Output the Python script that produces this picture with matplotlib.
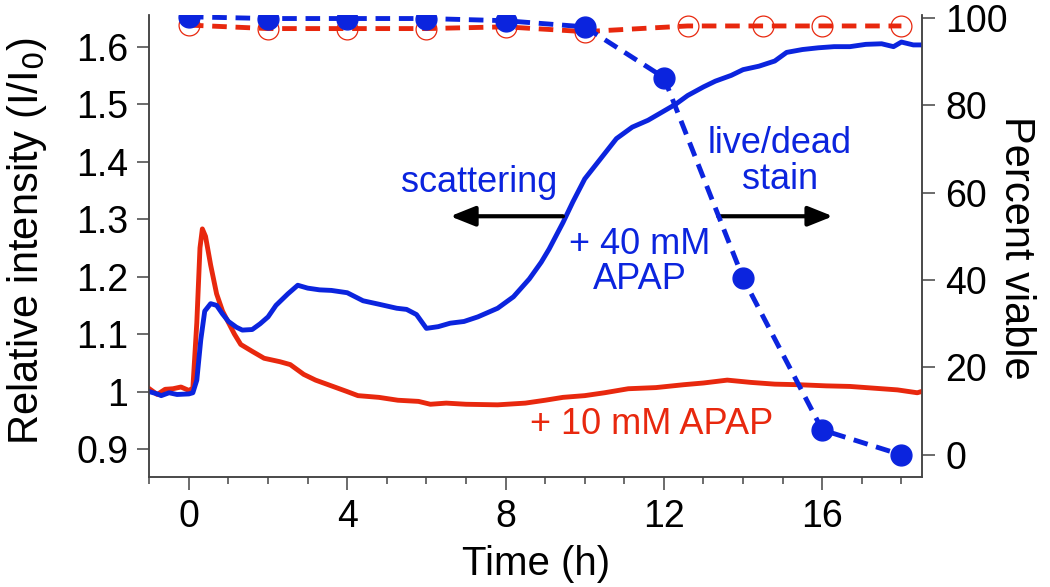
import matplotlib
matplotlib.use("Agg")
import matplotlib.pyplot as plt
from matplotlib import font_manager

# scattering intensity, 40 mM APAP
t_blue = [-1.0, -0.8, -0.7, -0.5, -0.3, 0.0, 0.1, 0.2, 0.3, 0.4, 0.55, 0.7, 0.85, 1.0, 1.2, 1.35,
          1.6, 1.8, 2.0, 2.2, 2.5, 2.75, 3.0, 3.3, 3.6, 4.0, 4.4, 4.8, 5.25, 5.5, 5.75, 6.0,
          6.3, 6.6, 6.95, 7.3, 7.8, 8.2, 8.6, 8.9, 9.1, 9.45, 9.7, 10.0, 10.4, 10.8, 11.2,
          11.6, 12.0, 12.3, 12.6, 13.0, 13.3, 13.7, 14.0, 14.4, 14.8, 15.1, 15.5, 15.9,
          16.3, 16.7, 17.1, 17.5, 17.8, 18.0, 18.3, 18.5]
i_blue = [1.0, 0.996, 0.993, 0.998, 0.995, 0.996, 0.998, 1.02, 1.09, 1.14, 1.153, 1.15, 1.135, 1.122,
          1.112, 1.107, 1.108, 1.118, 1.13, 1.15, 1.17, 1.185, 1.18, 1.177, 1.176, 1.172,
          1.158, 1.152, 1.145, 1.143, 1.134, 1.11, 1.113, 1.119, 1.122, 1.13, 1.145, 1.165,
          1.196, 1.225, 1.248, 1.294, 1.33, 1.37, 1.405, 1.44, 1.46, 1.472, 1.488, 1.5,
          1.515, 1.53, 1.54, 1.55, 1.56, 1.566, 1.575, 1.59, 1.595, 1.598, 1.6, 1.6, 1.604,
          1.605, 1.6, 1.608, 1.603, 1.603]

# scattering intensity, 10 mM APAP
t_red = [-1.0, -0.8, -0.6, -0.4, -0.2, 0.0, 0.1, 0.2, 0.28, 0.34, 0.42, 0.55, 0.7, 0.85, 1.0,
         1.15, 1.31, 1.6, 1.9, 2.3, 2.56, 2.9, 3.2, 3.6, 4.0, 4.27, 4.8, 5.28, 5.8, 6.1, 6.5,
         7.0, 7.8, 8.5, 9.0, 9.45, 10.0, 10.5, 11.1, 11.8, 12.5, 13.0, 13.6, 14.2, 14.8,
         15.4, 16.1, 16.7, 17.3, 17.9, 18.4, 18.5]
i_red = [1.005, 0.995, 1.004, 1.005, 1.008, 1.002, 1.006, 1.12, 1.25, 1.283, 1.27, 1.22, 1.17,
         1.14, 1.12, 1.1, 1.082, 1.07, 1.058, 1.052, 1.047, 1.03, 1.02, 1.01, 1.0, 0.993,
         0.99, 0.985, 0.983, 0.978, 0.98, 0.978, 0.977, 0.98, 0.985, 0.99, 0.993, 0.998,
         1.005, 1.007, 1.012, 1.015, 1.02, 1.016, 1.013, 1.012, 1.01, 1.009, 1.006, 1.003,
         0.998, 1.0]

# live/dead stain
t_via_blue = [0, 2, 4, 6, 8, 10, 12, 14, 16, 18]
v_blue = [100.2, 99.8, 99.8, 99.8, 99.3, 97.9, 86.3, 40.4, 5.7, 0.0]
t_via_red = [0, 2, 4, 6, 8, 10, 12.6, 14.5, 16, 18]
v_red = [98.3, 97.5, 97.5, 97.5, 97.9, 96.8, 98.1, 98.1, 98.1, 98.1]

BLUE = "#0b24de"
RED = "#e8280e"
SPINE = "#444444"

avail = {f.name for f in font_manager.fontManager.ttflist}
sans = "Liberation Sans" if "Liberation Sans" in avail else "DejaVu Sans"
plt.rcParams["font.family"] = sans

fig = plt.figure(figsize=(10.5, 5.87), dpi=100)
ax = fig.add_axes([0.1422, 0.1879, 0.7359, 0.7865])
ax2 = ax.twinx()

ax.plot(t_red, i_red, color=RED, lw=3.5, zorder=3)
ax.plot(t_blue, i_blue, color=BLUE, lw=3.5, zorder=4)

ax2.plot(t_via_red, v_red, color=RED, lw=3.5, ls=(0, (3, 1.8)), marker="o",
         markersize=15, markerfacecolor="none", markeredgecolor=RED, markeredgewidth=0.9,
         zorder=2)
ax2.plot(t_via_blue, v_blue, color=BLUE, lw=3.5, ls=(0, (3, 1.8)), marker="o",
         markersize=15, markerfacecolor=BLUE, markeredgecolor=BLUE, zorder=3)

ax.set_xlim(-1, 18.52)
ax.set_ylim(0.852, 1.655)
ax2.set_ylim(-5.0, 100.6)

ax.set_xticks([0, 4, 8, 12, 16])
ax.set_xticks(range(-1, 19), minor=True)
ax.set_yticks([0.9, 1.0, 1.1, 1.2, 1.3, 1.4, 1.5, 1.6])
ax.set_yticklabels(["0.9", "1", "1.1", "1.2", "1.3", "1.4", "1.5", "1.6"])
ax2.set_yticks([0, 20, 40, 60, 80, 100])

for a in (ax, ax2):
    a.spines["top"].set_visible(False)
    for s in ("left", "right", "bottom"):
        a.spines[s].set_color(SPINE)
        a.spines[s].set_linewidth(1.1)
ax.tick_params(axis="y", direction="out", length=9, width=1.1, color=SPINE,
               labelsize=27, pad=6)
ax2.tick_params(axis="y", direction="out", length=9, width=1.1, color=SPINE,
                labelsize=27, pad=8)
ax.tick_params(axis="x", which="major", direction="out", length=9, width=1.1,
               color=SPINE, labelsize=27, pad=7)
ax.tick_params(axis="x", which="minor", direction="out", length=5, width=1.1,
               color=SPINE)

ax.set_xlabel("Time (h)", fontsize=29, va="center")
ax.xaxis.set_label_coords(0.5, -0.19)
ax.set_ylabel("Relative intensity (I/I$_0$)", fontsize=30, va="center")
ax.yaxis.set_label_coords(-0.158, 0.51)
ax2.set_ylabel("Percent viable", fontsize=30, rotation=270, va="center")
ax2.yaxis.set_label_coords(1.122, 0.495)

ax.text(7.32, 1.363, "scattering", color=BLUE, fontsize=26, ha="center", va="center")
ax.text(14.93, 1.40, "live/dead\nstain", color=BLUE, fontsize=26, ha="center",
        va="center", linespacing=1.05)
ax.text(11.4, 1.225, "+ 40 mM\nAPAP", color=BLUE, fontsize=26, ha="center",
        va="center", linespacing=1.0)
ax.text(11.7, 0.942, "+ 10 mM APAP", color=RED, fontsize=26, ha="center", va="center")

arrow = dict(arrowstyle="-|>,head_length=1.5,head_width=0.6", color="black", lw=3,
             shrinkA=0, shrinkB=0)
ax.annotate("", xy=(6.6, 1.305), xytext=(9.45, 1.305), arrowprops=arrow, zorder=5)
ax.annotate("", xy=(16.27, 1.305), xytext=(13.37, 1.305), arrowprops=arrow, zorder=5)

ax2.set_zorder(ax.get_zorder() + 1)
ax2.patch.set_visible(False)

fig.savefig("out.png", dpi=100)
